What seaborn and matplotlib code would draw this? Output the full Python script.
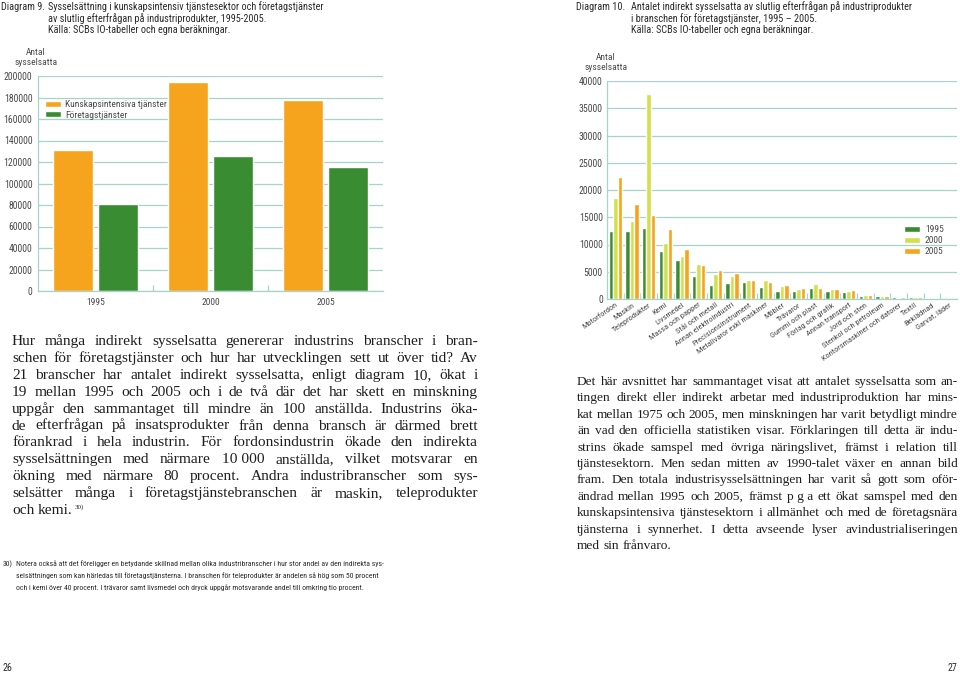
import matplotlib
matplotlib.use("Agg")
import numpy as np
import pandas as pd
import seaborn as sns
import matplotlib.pyplot as plt
from matplotlib import font_manager, ticker

# ---------------- data ----------------
years9 = ["1995", "2000", "2005"]
series9 = ["Kunskapsintensiva tjänster", "Företagstjänster"]
kunskap = [131000, 194000, 178000]
foretag = [81000, 126000, 115000]

branscher = ["Motorfordon", "Maskin", "Teleprodukter", "Kemi", "Livsmedel",
             "Massa och papper", "Stål och metall", "Annan elektroindustri",
             "Precisionsinstrument", "Metallvaror exkl maskiner", "Möbler",
             "Trävaror", "Gummi och plast", "Förlag och grafik", "Annan transport",
             "Jord och sten", "Stenkol och petroleum", "Kontorsmaskiner och datorer",
             "Textil", "Beklädnad", "Garvat, läder"]
years10 = ["1995", "2000", "2005"]
v1995 = [12400, 12500, 13000, 8800, 7100, 4300, 2500, 2900, 3200, 2250, 1500,
         1500, 2000, 1400, 1300, 500, 500, 300, 400, 120, 60]
v2000 = [18500, 14400, 37600, 10200, 7900, 6400, 4600, 4300, 3400, 3500, 2300,
         1800, 2700, 1800, 1500, 700, 600, 250, 450, 120, 60]
v2005 = [22300, 17500, 15400, 12800, 9100, 6300, 5300, 4700, 3500, 3200, 2500,
         2100, 1950, 1900, 1700, 750, 550, 450, 450, 120, 50]

title9 = ["Sysselsättning i kunskapsintensiv tjänstesektor och företagstjänster",
          "av slutlig efterfrågan på industriprodukter, 1995-2005.",
          "Källa: SCBs IO-tabeller och egna beräkningar."]
title10 = ["Antalet indirekt sysselsatta av slutlig efterfrågan på industriprodukter",
           "i branschen för företagstjänster, 1995 – 2005.",
           "Källa: SCBs IO-tabeller och egna beräkningar."]
ylabel_txt = "Antal\nsysselsatta"

left_body = [
    "Hur många indirekt sysselsatta genererar industrins branscher i bran-",
    "schen för företagstjänster och hur har utvecklingen sett ut över tid? Av",
    "21 branscher har antalet indirekt sysselsatta, enligt diagram 10, ökat i",
    "19 mellan 1995 och 2005 och i de två där det har skett en minskning",
    "uppgår den sammantaget till mindre än 100 anställda. Industrins öka-",
    "de efterfrågan på insatsprodukter från denna bransch är därmed brett",
    "förankrad i hela industrin. För fordonsindustrin ökade den indirekta",
    "sysselsättningen med närmare 10\u00a0000 anställda, vilket motsvarar en",
    "ökning med närmare 80 procent. Andra industribranscher som sys-",
    "selsätter många i företagstjänstebranschen är maskin, teleprodukter",
    "och kemi.",
]
right_body = [
    "Det här avsnittet har sammantaget visat att antalet sysselsatta som an-",
    "tingen direkt eller indirekt arbetar med industriproduktion har mins-",
    "kat mellan 1975 och 2005, men minskningen har varit betydligt mindre",
    "än vad den officiella statistiken visar. Förklaringen till detta är indu-",
    "strins ökade samspel med övriga näringslivet, främst i relation till",
    "tjänstesektorn. Men sedan mitten av 1990-talet växer en annan bild",
    "fram. Den totala industrisysselsättningen har varit så gott som oför-",
    "ändrad mellan 1995 och 2005, främst p\u00a0g\u00a0a ett ökat samspel med den",
    "kunskapsintensiva tjänstesektorn i allmänhet och med de företagsnära",
    "tjänsterna i synnerhet. I detta avseende lyser avindustrialiseringen",
    "med sin frånvaro.",
]
footnote = [
    "Notera också att det föreligger en betydande skillnad mellan olika industribranscher i hur stor andel av den indirekta sys-",
    "selsättningen som kan härledas till företagstjänsterna. I branschen för teleprodukter är andelen så hög som 50 procent",
    "och i kemi över 40 procent. I trävaror samt livsmedel och dryck uppgår motsvarande andel till omkring tio procent.",
]

# ---------------- style ----------------
ORANGE = "#F6A31E"
GREEN = "#3A8C33"
LIME = "#D3DF4B"
GRID = "#A6D4C8"
TXT = "#2b2b2b"
TICK = "#4a4a4a"

sns.set_theme(style="white")
avail = {f.name for f in font_manager.fontManager.ttflist}
SANS = "Roboto"
for cand in ["Roboto Condensed", "Liberation Sans Narrow", "Open Sans Condensed",
             "Roboto"]:
    if cand in avail:
        SANS = cand
        break
CONDENSED = SANS != "Roboto"
SERIF = "Liberation Serif" if "Liberation Serif" in avail else "DejaVu Serif"
plt.rcParams["font.family"] = [SANS, "DejaVu Sans"]

FS_T = 7.4 if CONDENSED else 6.6     # titles
FS_K = 6.8 if CONDENSED else 6.2     # ticks / legends
FS_Y = 7.0 if CONDENSED else 6.4     # y tick labels
FS_C = 6.0 if CONDENSED else 5.4     # category labels
FS_F = 5.6 if CONDENSED else 5.1     # footnote

W, H = 960, 675
fig = plt.figure(figsize=(W / 100, H / 100), dpi=100)
fig.patch.set_facecolor("white")


def ax_px(x0, y0, x1, y1):
    return fig.add_axes([x0 / W, 1 - y1 / H, (x1 - x0) / W, (y1 - y0) / H])


def ftext(x, y, s, **kw):
    return fig.text(x / W, 1 - y / H, s, **kw)


def style_axes(ax, n):
    ax.set_xlabel("")
    ax.set_ylabel("")
    ax.set_xlim(-0.5, n - 0.5)
    ax.yaxis.grid(True, color=GRID, lw=0.9)
    ax.xaxis.grid(False)
    ax.set_axisbelow(True)
    for s in ["top", "right"]:
        ax.spines[s].set_visible(False)
    for s in ["left", "bottom"]:
        ax.spines[s].set_color(GRID)
        ax.spines[s].set_linewidth(0.9)
    ax.set_xticks(np.arange(0.5, n - 0.5, 1.0), minor=True)
    ax.tick_params(axis="x", which="minor", direction="in", length=4,
                   color=GRID, width=0.9, bottom=True)
    ax.yaxis.set_major_formatter(ticker.StrMethodFormatter("{x:.0f}"))


# ---------------- Diagram 9 ----------------
df9 = pd.DataFrame({
    "År": years9 * 2,
    "Serie": [series9[0]] * 3 + [series9[1]] * 3,
    "Antal": kunskap + foretag,
})
ax1 = ax_px(38, 76, 383, 291)
sns.barplot(data=df9, x="År", y="Antal", hue="Serie", palette=[ORANGE, GREEN],
            width=0.78, gap=0.1, saturation=1, errorbar=None, ax=ax1)
style_axes(ax1, 3)
ax1.set_ylim(0, 200000)
ax1.set_yticks(np.arange(0, 200001, 20000))
ax1.tick_params(axis="y", length=0, labelsize=FS_Y, labelcolor=TICK, pad=4.0)
ax1.tick_params(axis="x", which="major", length=0, labelsize=FS_K,
                labelcolor=TICK, pad=5)
ax1.legend(loc="upper left", bbox_to_anchor=(0.008, 0.905), frameon=False,
           fontsize=FS_K, handlelength=1.7, handleheight=0.65, handletextpad=0.5,
           labelspacing=0.15, borderaxespad=0, labelcolor=TICK)

# ---------------- Diagram 10 ----------------
df10 = pd.DataFrame({
    "Bransch": branscher * 3,
    "År": [years10[0]] * 21 + [years10[1]] * 21 + [years10[2]] * 21,
    "Antal": v1995 + v2000 + v2005,
})
ax2 = ax_px(607, 81, 957, 299)
sns.barplot(data=df10, x="Bransch", y="Antal", hue="År",
            palette=[GREEN, LIME, ORANGE], width=0.8, saturation=1,
            errorbar=None, ax=ax2)
style_axes(ax2, 21)
ax2.set_ylim(0, 40000)
ax2.set_yticks(np.arange(0, 40001, 5000))
ax2.tick_params(axis="y", length=0, labelsize=FS_Y, labelcolor=TICK, pad=3)
ax2.tick_params(axis="x", which="major", length=0, labelsize=FS_C,
                labelcolor=TICK, pad=2)
for lab in ax2.get_xticklabels():
    lab.set_rotation(35)
    lab.set_ha("right")
    lab.set_rotation_mode("anchor")
ax2.legend(loc="upper left", bbox_to_anchor=(0.838, 0.355), frameon=False,
           fontsize=FS_K, handlelength=1.7, handleheight=0.6, handletextpad=0.5,
           labelspacing=0.2, borderaxespad=0, labelcolor=TICK)

# ---------------- titles / labels ----------------
tkw = dict(fontsize=FS_T, color=TXT, va="center", ha="left")
ftext(1, 7, "Diagram 9.", **tkw)
for i, s in enumerate(title9):
    ftext(48, 7 + 11.7 * i, s, **tkw)
ftext(576, 7, "Diagram 10.", **tkw)
for i, s in enumerate(title10):
    ftext(631, 7 + 11.7 * i, s, **tkw)

ftext(36, 57.5, ylabel_txt, fontsize=FS_K, color=TICK, ha="center",
      va="center", linespacing=1.2)
ftext(606, 62.5, ylabel_txt, fontsize=FS_K, color=TICK, ha="center",
      va="center", linespacing=1.2)

# ---------------- justified body text ----------------
renderer = fig.canvas.get_renderer()


def paragraph(lines, x0, x1, y0, dy, fontsize):
    out = []
    for i, line in enumerate(lines):
        words = line.split(" ")
        y = y0 + dy * i
        texts = [ftext(0, y, w, fontsize=fontsize, family=[SERIF, "DejaVu Serif"],
                       color="#1e1e1e", va="baseline", ha="left") for w in words]
        widths = [t.get_window_extent(renderer).width for t in texts]
        last = i == len(lines) - 1
        if not last and len(words) > 1:
            gap = (x1 - x0 - sum(widths)) / (len(words) - 1)
        else:
            gap = fontsize * 1.389 * 0.25
        x = x0
        for t, w in zip(texts, widths):
            t.set_x(x / W)
            x += w + gap
        out.append((x - gap, y))
    return out


endl = paragraph(left_body, 12, 478, 345, 16.9, 11.1)
xe, ye = endl[-1]
ftext(xe + 1.5, ye - 5, "30)", fontsize=5, family=[SERIF, "DejaVu Serif"],
      color="#1e1e1e", va="baseline", ha="left")
paragraph(right_body, 577, 958, 385, 16.4, 9.6)

# ---------------- footnote ----------------
fkw = dict(fontsize=FS_F, color=TXT, va="center", ha="left")
ftext(3, 564, "30)", **fkw)
for i, s in enumerate(footnote):
    ftext(16, 564 + 12 * i, s, **fkw)

# ---------------- page numbers ----------------
ftext(3, 668, "26", fontsize=7.2, color=TXT, va="center", ha="left")
ftext(957, 668, "27", fontsize=7.2, color=TXT, va="center", ha="right")

fig.savefig("out.png", dpi=100)
